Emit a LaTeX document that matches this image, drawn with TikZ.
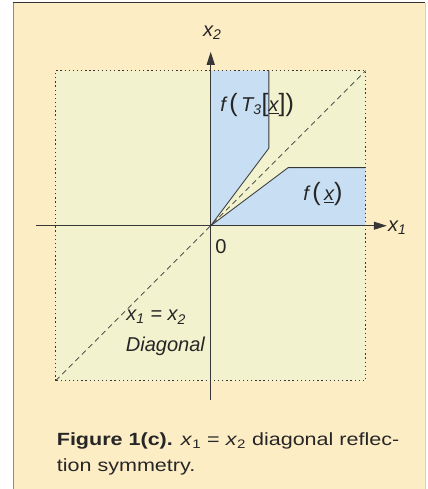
\documentclass[tikz,border=0pt]{standalone}
\usepackage{fontspec}
\setmainfont{Liberation Sans}[FakeStretch=1.22]
\newfontfamily\labelfont{Liberation Sans}
\usetikzlibrary{arrows.meta,positioning}
\definecolor{panelcream}{RGB}{253,237,197}
\definecolor{planegreen}{RGB}{242,243,206}
\definecolor{regionblue}{RGB}{200,222,242}
\definecolor{inkgray}{RGB}{55,55,55}
\newcommand{\tallpar}[1]{{\fontsize{23}{23}\selectfont\upshape#1}}
\tikzset{
 axis/.style={-{Triangle[length=4.2mm,width=2.6mm]},line width=0.9pt,draw=inkgray},
 edge/.style={line width=0.8pt,draw=inkgray},
 diag/.style={dash pattern=on 5pt off 3.5pt,line width=0.6pt,draw=inkgray},
 frame/.style={dash pattern=on 1.2pt off 2.6pt,line width=1.1pt,draw=inkgray},
 lbl/.style={font=\labelfont\fontsize{18.4}{21}\selectfont\itshape,text=black!85,inner sep=1pt},
 caption/.style={font=\fontsize{16.2}{24.5}\selectfont,text=black!85,align=left,anchor=north west,inner sep=0pt}}

\begin{document}
\begin{tikzpicture}
\useasboundingbox (-6.797,-8.493) rectangle (7.006,7.281);
% panel
\fill[panelcream] (-6.37,-8.493) rectangle (6.91,7.2);
\draw[black!45,line width=0.8pt] (-6.37,-8.493) -- (-6.37,7.2);
\draw[black!80,line width=0.8pt] (-6.37,7.2) -- (6.91,7.2);
\draw[black!18,line width=0.6pt] (6.91,7.2) -- (6.91,-8.493);
% plane and regions
\fill[planegreen] (-5,-5) rectangle (5,5);
\fill[regionblue] (0,0) -- (2.5,1.875) -- (5,1.875) -- (5,0) -- cycle;
\fill[regionblue] (0,0) -- (1.875,2.5) -- (1.875,5) -- (0,5) -- cycle;
\coordinate (orig) at (0,0);
\coordinate (fxcorner) at (2.5,1.875); \coordinate (fxend) at (5,1.875);
\coordinate (ftcorner) at (1.875,2.5); \coordinate (ftend) at (1.875,5);
\draw[edge] (orig) -- (fxcorner) -- (fxend);
\draw[edge] (orig) -- (ftcorner) -- (ftend);
\draw[frame] (-5,-5) rectangle (5,5);
\coordinate (diagstart) at (-5,-5); \coordinate (diagend) at (5,5);
\draw[diag] (diagstart) -- (diagend);
% axes
\coordinate (x1start) at (-5.65,0); \coordinate (x1tip) at (5.68,0);
\coordinate (x2start) at (0,-5.62); \coordinate (x2tip) at (0,5.61);
\draw[axis] (x1start) -- (x1tip);
\draw[axis] (x2start) -- (x2tip);
\node[lbl,right=0pt of x1tip,yshift=-2pt] (x1lab) {x\textsubscript{1}};
\node[lbl] (x2lab) at (0.05,6.22) {x\textsubscript{2}};
\node[lbl,font=\labelfont\fontsize{18.4}{21}\selectfont] (zero) at (0.33,-0.66) {0};
% labels
\node[lbl] (ftlab) at (1.5,3.9) {f\,\tallpar{(}\,T\textsubscript{3}\tallpar{[}\underline{x}\tallpar{])}};
\node[lbl] (fxlab) at (3.62,1.02) {f\,\tallpar{(}\,\underline{x}\tallpar{)}};
\node[lbl,anchor=west] (diageq) at (-2.76,-2.95) {x\textsubscript{1} = x\textsubscript{2}};
\node[lbl,anchor=west] (diagname) at (-2.78,-3.9) {Diagonal};
% caption
\node[caption] (cap) at (-4.97,-6.66) {{\bfseries Figure 1(c).} \textit{x}\textsubscript{1} = \textit{x}\textsubscript{2} diagonal reflec-\\tion symmetry.};
\end{tikzpicture}
\end{document}
